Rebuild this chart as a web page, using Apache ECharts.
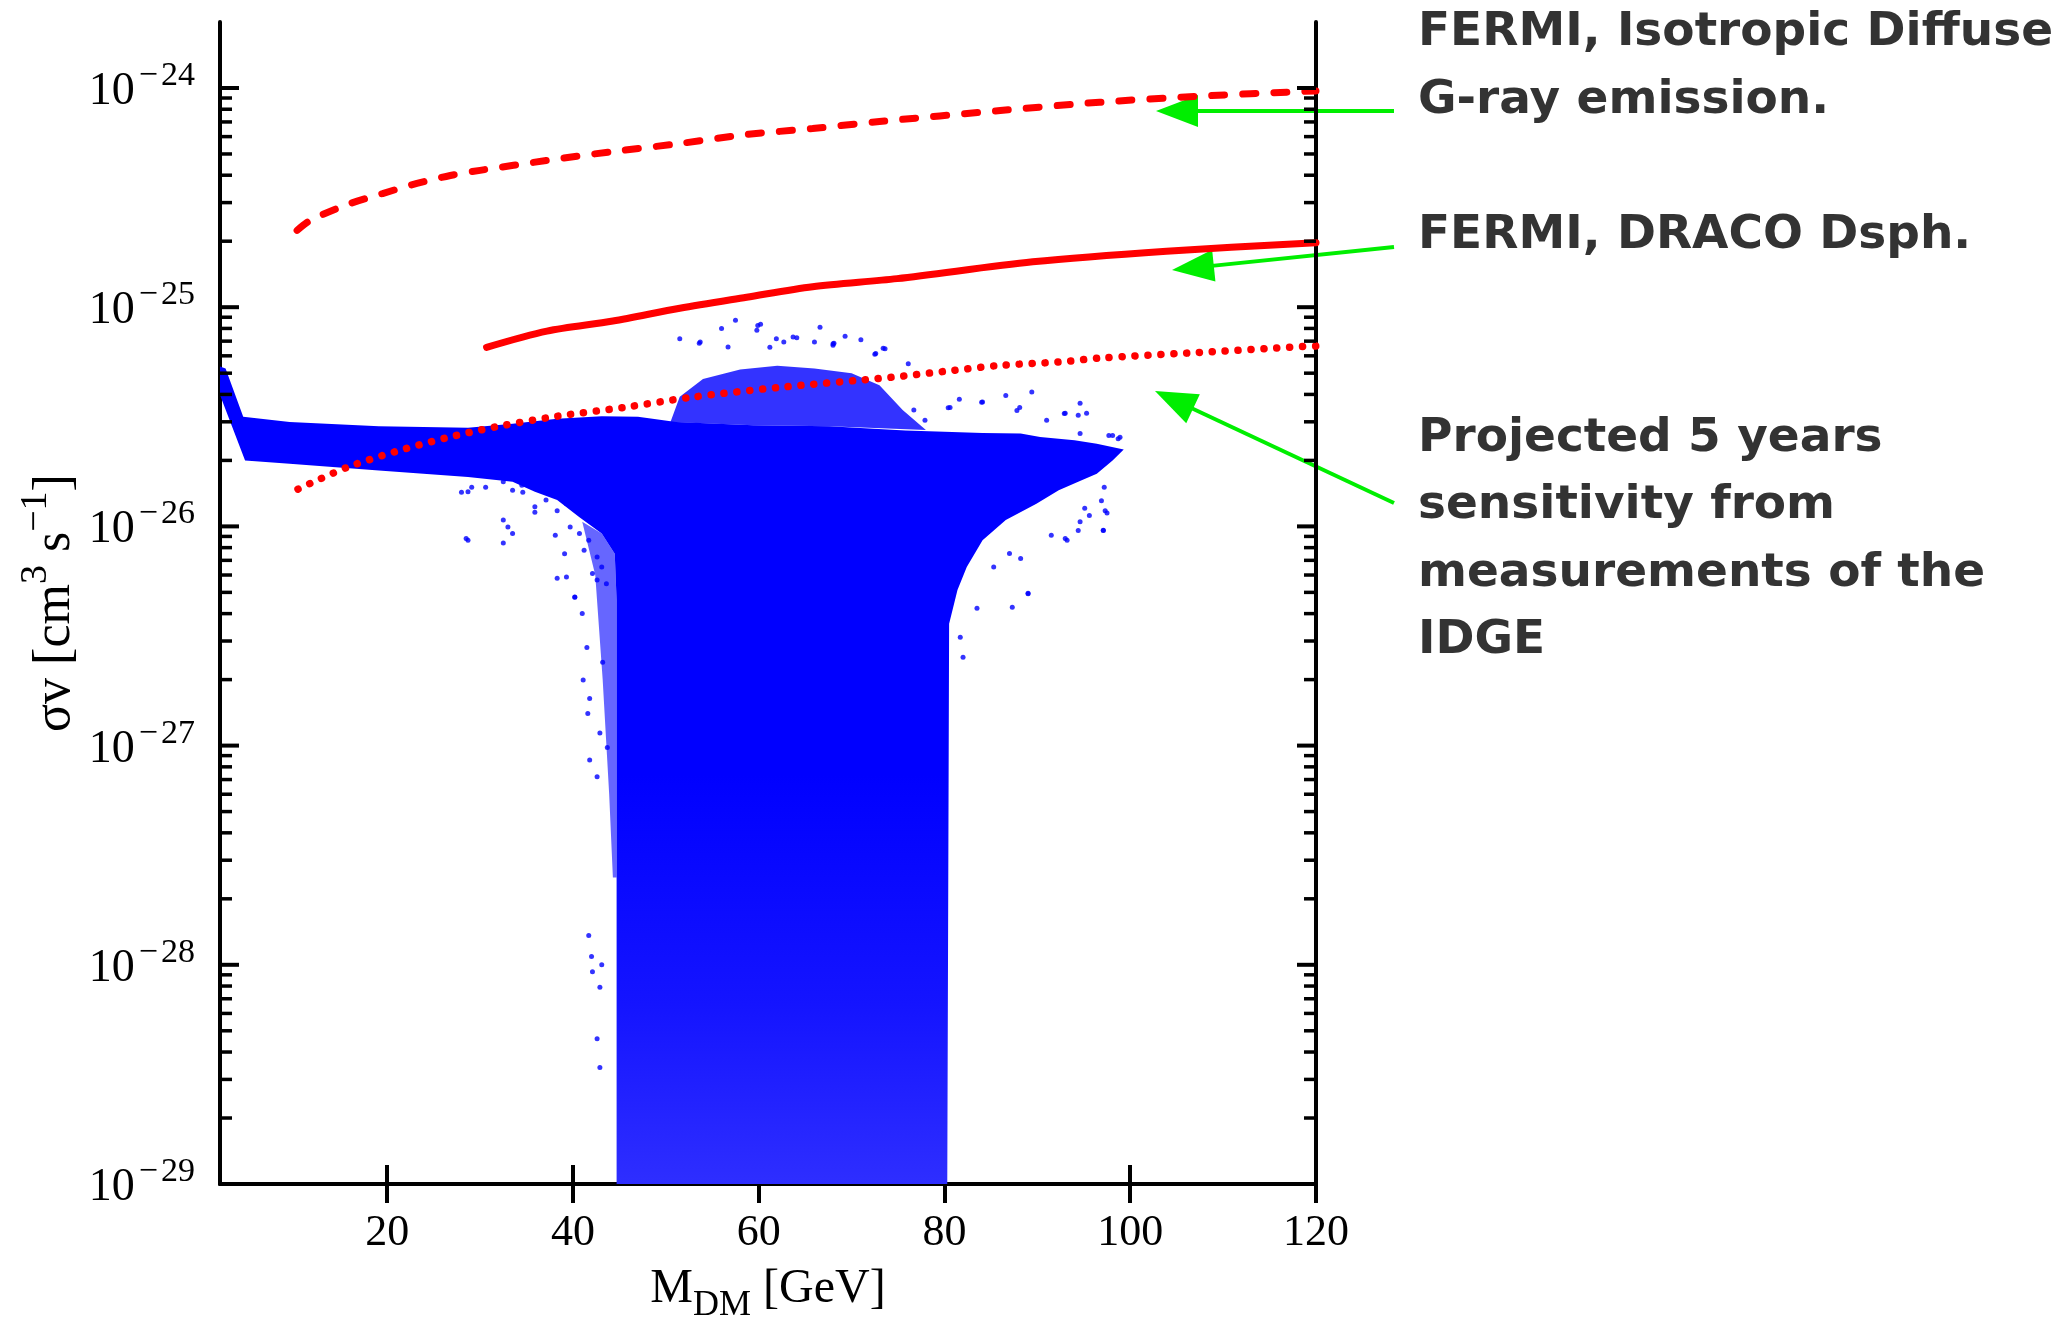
<!DOCTYPE html>
<html><head><meta charset="utf-8">
<script src="https://cdn.jsdelivr.net/npm/echarts@6/dist/echarts.min.js"></script>
<style>html,body{margin:0;padding:0;background:#fff}#c{width:2059px;height:1323px}</style>
</head><body><div id="c"></div>
<script>
// ---------- axis ticks ----------
const xTicks = [20, 40, 60, 80, 100, 120];
const yMajor = [1e-29, 1e-28, 1e-27, 1e-26, 1e-25, 1e-24];
const yMajorExp = [-29, -28, -27, -26, -25, -24];
const minorMantissa = [2, 3, 4, 5, 6, 7, 8, 9];
const minorExponents = [-29, -28, -27, -26, -25];

// ---------- FERMI Isotropic Diffuse (dashed) ----------
const isoX = [10.3, 11.4, 12.8, 16.0, 19.5, 23.2, 26.8, 30.0, 37.2, 44.3, 51.5, 58.7, 65.8, 73.0, 86.0, 96.7, 107.5, 120.0];
const isoY = [2.24e-25, 2.44e-25, 2.62e-25, 2.97e-25, 3.30e-25, 3.67e-25, 3.99e-25, 4.21e-25, 4.67e-25, 5.13e-25, 5.58e-25, 6.14e-25, 6.53e-25, 7.03e-25, 7.89e-25, 8.61e-25, 9.18e-25, 9.70e-25];

// ---------- FERMI DRACO Dsph (solid) ----------
const draX = [30.7, 37.2, 44.3, 51.5, 58.7, 65.8, 74.9, 89.5, 103.9, 120.0];
const draY = [6.56e-26, 7.78e-26, 8.65e-26, 9.89e-26, 1.11e-25, 1.24e-25, 1.35e-25, 1.61e-25, 1.80e-25, 1.97e-25];

// ---------- Projected 5 years (dotted) ----------
const proX = [10.4, 15.7, 21.0, 26.3, 31.6, 38.3, 45.5, 52.7, 62.3, 74.3, 79.9, 86.0, 92.3, 96.7, 106.3, 118.8, 120.0];
const proY = [1.48e-26, 1.86e-26, 2.20e-26, 2.53e-26, 2.84e-26, 3.18e-26, 3.49e-26, 3.88e-26, 4.31e-26, 4.79e-26, 5.09e-26, 5.43e-26, 5.62e-26, 5.86e-26, 6.18e-26, 6.62e-26, 6.65e-26];

// ---------- scan points: outline of the dense region ----------
const cloudX = [2.0, 2.6, 4.5, 9.5, 19.1, 28.7, 33.5, 38.3, 43.1, 47.0, 51.1, 59.4, 67.6, 75.8, 80.0, 84.1, 88.2, 90.3, 94.0, 96.4, 99.3,
  98.1, 96.4, 94.4, 92.3, 89.9, 86.6, 84.1, 82.4, 81.4, 80.5, 80.3, 44.7, 44.7, 44.5, 43.1, 40.7, 38.3, 35.9, 33.5, 28.7, 19.1, 9.5, 4.7, 2.0];
const cloudY = [5.37e-26, 5.25e-26, 3.16e-26, 2.99e-26, 2.86e-26, 2.82e-26, 2.94e-26, 3.10e-26, 3.18e-26, 3.16e-26, 2.99e-26, 2.89e-26, 2.86e-26, 2.74e-26, 2.70e-26, 2.67e-26, 2.65e-26, 2.56e-26, 2.47e-26, 2.38e-26, 2.24e-26,
  2.0e-26, 1.74e-26, 1.60e-26, 1.46e-26, 1.27e-26, 1.07e-26, 8.65e-27, 6.53e-27, 5.12e-27, 3.6e-27, 1e-29, 1e-29, 4.6e-27, 7.5e-27, 9.27e-27, 1.10e-26, 1.32e-26, 1.44e-26, 1.60e-26, 1.68e-26, 1.80e-26, 1.93e-26, 2.0e-26, 3.98e-26];

// sparser bump above the band (50-78 GeV)
const bumpX = [50.5, 51.5, 54.0, 58.0, 62.0, 66.0, 70.0, 73.0, 75.5, 78.0, 67.6, 59.4];
const bumpY = [2.99e-26, 3.9e-26, 4.7e-26, 5.2e-26, 5.4e-26, 5.25e-26, 5.0e-26, 4.4e-26, 3.4e-26, 2.75e-26, 2.86e-26, 2.89e-26];

// sparser strip left of the column (41-44.7 GeV)
const flareX = [41.0, 42.4, 43.2, 43.9, 44.3, 44.7, 44.7, 44.5, 43.1];
const flareY = [1.05e-26, 6.0e-27, 2.0e-27, 6.0e-28, 2.5e-28, 2.5e-28, 4.6e-27, 7.5e-27, 9.27e-27];

// individual outlying scan points
const outX = [51.5, 57.5, 59.9, 66.6, 68.1, 73.4, 53.6, 56.7, 60.2, 59.8, 61.9, 62.7, 64.1, 66.0, 68.0, 69.3, 71.0, 72.6, 73.6, 76.1, 76.7, 77.9,
  80.4, 81.6, 84.1, 86.6, 87.8, 89.4, 94.6, 92.9, 94.4, 97.7, 98.7, 96.9, 97.3, 94.4, 97.1, 93.2, 91.5, 88.2, 89.0, 85.3, 87.0, 94.6, 95.6,
  53.7, 56.0, 61.2, 63.7, 68.0, 72.5, 98.1, 98.9, 95.1, 97.1, 93.0, 89.0, 87.3, 82.0, 81.7, 83.5, 97.2, 97.5,
  80.6, 84.0, 88.1, 93.0, 95.3, 91.0, 94.6,
  34.6, 35.9, 38.1, 39.1, 38.3, 40.2, 41.1, 41.8, 41.6, 42.9, 41.8, 42.6, 41.0, 41.5, 42.6, 43.2, 43.7,
  28.7, 30.6, 32.5, 33.5, 34.5, 35.9, 37.1, 38.3, 39.3, 39.7, 40.7, 41.7, 41.2, 42.6, 43.1, 42.1, 43.6, 32.5, 33.0, 33.5, 28.7, 32.5, 39.3, 40.2,
  41.7, 42.0, 42.1, 42.9, 42.6, 42.9, 43.1, 28.0, 29.1, 28.5];
const outY = [7.18e-26, 8.71e-26, 8.26e-26, 8.11e-26, 6.84e-26, 6.49e-26, 6.85e-26, 6.58e-26, 8.35e-26, 7.84e-26, 7.18e-26, 6.93e-26, 7.26e-26, 6.93e-26, 6.81e-26, 7.36e-26, 7.11e-26, 6.14e-26, 6.47e-26, 5.52e-26, 3.40e-26, 3.05e-26,
  3.48e-26, 3.80e-26, 3.69e-26, 3.96e-26, 3.38e-26, 4.10e-26, 3.65e-26, 3.27e-26, 3.21e-26, 2.60e-26, 2.51e-26, 1.31e-26, 1.18e-26, 9.59e-27, 9.59e-27, 8.64e-27, 9.10e-27, 7.13e-27, 4.93e-27, 6.53e-27, 7.52e-27, 1.05e-26, 1.12e-26,
  6.93e-26, 8.0e-26, 6.56e-26, 7.31e-26, 6.70e-26, 6.1e-26, 2.6e-26, 2.55e-26, 1.21e-26, 9.6e-27, 8.8e-27, 4.95e-27, 4.28e-27, 2.53e-27, 3.12e-27, 4.23e-27, 1.51e-26, 1.15e-26,
  3.49e-26, 3.68e-26, 3.49e-26, 3.28e-26, 3.28e-26, 3.05e-26, 2.65e-26,
  1.43e-26, 1.16e-26, 9.1e-27, 7.5e-27, 5.8e-27, 4.75e-27, 1.99e-27, 1.64e-27, 1.40e-27, 1.14e-27, 8.6e-28, 7.2e-28, 4.0e-27, 2.8e-27, 5.7e-27, 2.4e-27, 9.8e-28,
  1.44e-26, 1.51e-26, 1.60e-26, 1.46e-26, 1.54e-26, 1.23e-26, 1.32e-26, 1.18e-26, 1.27e-26, 9.93e-27, 9.27e-27, 8.65e-27, 7.78e-27, 7.26e-27, 6.53e-27, 6.10e-27, 5.48e-27, 1.07e-26, 9.93e-27, 9.27e-27, 8.65e-27, 8.40e-27, 5.87e-27, 4.76e-27,
  1.36e-28, 1.09e-28, 9.3e-29, 7.9e-29, 4.6e-29, 3.4e-29, 1.0e-28, 1.43e-26, 1.51e-26, 8.8e-27];

// ---------- build ----------
const minorVals = [];
minorExponents.forEach(e => minorMantissa.forEach(m => minorVals.push(m * Math.pow(10, e))));
const pairs = (xs, ys) => xs.map((x, i) => [x, ys[i]]);

const serif = 'Liberation Serif';
const SANS = 'DejaVu Sans';
const BLUE = '#0000ff', RED = '#ff0000', GREEN = '#00ee00';

function polySeries(xs, ys, fill, z) {
  return {
    type: 'custom', coordinateSystem: 'cartesian2d', silent: true, z: z, clip: true,
    data: [[xs[0], ys[0]]],
    renderItem: function (params, api) {
      return { type: 'polygon', shape: { points: xs.map((x, i) => api.coord([x, ys[i]])) }, style: { fill: fill } };
    }
  };
}

function note(text, y) {
  return { type: 'text', x: 1418, y: y, style: { text: text, fontFamily: SANS, fontWeight: 'bold', fontSize: 47, fill: '#333', verticalAlign: 'middle' } };
}
function arrow(x1, y1, x2, y2) {
  const dx = x1 - x2, dy = y1 - y2, L = Math.hypot(dx, dy), ux = dx / L, uy = dy / L;
  const hl = 42, hw = 16, bx = x2 + ux * hl, by = y2 + uy * hl;
  return [
    { type: 'line', shape: { x1: x1, y1: y1, x2: bx - ux * 2, y2: by - uy * 2 }, style: { stroke: GREEN, lineWidth: 4 } },
    { type: 'polygon', shape: { points: [[x2, y2], [bx - uy * hw, by + ux * hw], [bx + uy * hw, by - ux * hw]] }, style: { fill: GREEN } }
  ];
}

const chart = echarts.init(document.getElementById('c'), null, { renderer: 'canvas' });
const axisLineStyle = { show: true, lineStyle: { color: '#000', width: 4 } };

const option = {
  animation: false,
  backgroundColor: '#fff',
  grid: { left: 220, top: 22, width: 1096, height: 1162, outerBoundsMode: 'none' },
  xAxis: [
    {
      type: 'value', position: 'bottom', min: 2, max: 120,
      axisLine: axisLineStyle,
      axisTick: { show: true, inside: true, length: 19, customValues: xTicks, lineStyle: { color: '#000', width: 4 } },
      axisLabel: { customValues: xTicks, margin: 27, color: '#000', fontFamily: serif, fontSize: 44 },
      splitLine: { show: false },
      name: '{t|M}{sub|DM}{t| [GeV]}', nameLocation: 'middle', nameGap: 70,
      nameTextStyle: {
        rich: {
          t: { fontFamily: serif, fontSize: 48, color: '#000', lineHeight: 70 },
          sub: { fontFamily: serif, fontSize: 36, color: '#000', verticalAlign: 'bottom' }
        }
      }
    },
    {
      type: 'value', position: 'top', min: 2, max: 120,
      axisLine: axisLineStyle,
      axisTick: { show: true, inside: true, length: 19, customValues: xTicks, lineStyle: { color: '#000', width: 4 } },
      axisLabel: { show: false }, splitLine: { show: false }
    }
  ],
  yAxis: [
    {
      type: 'log', logBase: 10, position: 'left', min: 1e-29, max: 2e-24,
      axisLine: axisLineStyle,
      axisTick: { show: false }, axisLabel: { show: false }, splitLine: { show: false },
      name: '{t|\u03c3v [cm}{s|3}{t| s}{s|\u22121}{t|]}', nameLocation: 'middle', nameRotate: 90, nameGap: 126,
      nameTextStyle: {
        rich: {
          t: { fontFamily: serif, fontSize: 52, color: '#000', lineHeight: 77 },
          s: { fontFamily: serif, fontSize: 38, color: '#000', verticalAlign: 'top' }
        }
      }
    },
    {
      type: 'log', logBase: 10, position: 'right', min: 1e-29, max: 2e-24,
      axisLine: axisLineStyle,
      axisTick: { show: false }, axisLabel: { show: false }, splitLine: { show: false }
    }
  ],
  series: [
    polySeries(cloudX, cloudY, new echarts.graphic.LinearGradient(0, 0, 0, 1, [
      { offset: 0, color: '#0000ff' }, { offset: 0.5, color: '#0000ff' },
      { offset: 0.78, color: '#1414ff' }, { offset: 1, color: '#2e2eff' }]), 1),
    polySeries(bumpX, bumpY, 'rgba(0,0,255,0.8)', 1),
    polySeries(flareX, flareY, 'rgba(0,0,255,0.6)', 1),
    {
      type: 'scatter', silent: true, z: 2, symbol: 'circle', symbolSize: 5,
      itemStyle: { color: BLUE }, data: pairs(outX, outY)
    },
    {
      type: 'line', silent: true, z: 3, showSymbol: false, smooth: 0.3,
      lineStyle: { color: RED, width: 7, type: [13, 18], cap: 'round' },
      data: pairs(isoX, isoY)
    },
    {
      type: 'line', silent: true, z: 3, showSymbol: false, smooth: 0.3,
      lineStyle: { color: RED, width: 7, type: 'solid', cap: 'round' },
      data: pairs(draX, draY)
    },
    {
      type: 'line', silent: true, z: 3, showSymbol: false, smooth: 0.3,
      lineStyle: { color: RED, width: 7.5, type: [0.1, 12.8], cap: 'round' },
      data: pairs(proX, proY)
    },
    { // minor y ticks, left and right
      type: 'custom', coordinateSystem: 'cartesian2d', silent: true, z: 5, clip: false,
      data: minorVals.map(v => [2, v]),
      renderItem: function (params, api) {
        const y = api.coord([api.value(0), api.value(1)])[1];
        const cs = params.coordSys;
        const st = { stroke: '#000', lineWidth: 3.5 };
        return {
          type: 'group', children: [
            { type: 'line', shape: { x1: cs.x, y1: y, x2: cs.x + 12, y2: y }, style: st },
            { type: 'line', shape: { x1: cs.x + cs.width - 12, y1: y, x2: cs.x + cs.width, y2: y }, style: st }
          ]
        };
      }
    },
    { // major y ticks and labels
      type: 'custom', coordinateSystem: 'cartesian2d', silent: true, z: 5, clip: false,
      data: yMajor.map((v, i) => [2, v, yMajorExp[i]]),
      renderItem: function (params, api) {
        const y = api.coord([api.value(0), api.value(1)])[1];
        const cs = params.coordSys;
        const st = { stroke: '#000', lineWidth: 4 };
        const ex = api.value(2);
        return {
          type: 'group', children: [
            { type: 'line', shape: { x1: cs.x, y1: y, x2: cs.x + 19, y2: y }, style: st },
            { type: 'line', shape: { x1: cs.x + cs.width - 19, y1: y, x2: cs.x + cs.width, y2: y }, style: st },
            {
              type: 'text', x: cs.x - 25, y: y + 4,
              style: {
                text: '{b|10}{m|\u2212}{s|' + (-ex) + '}', align: 'right', verticalAlign: 'middle',
                rich: {
                  b: { fontFamily: serif, fontSize: 46, fill: '#000', lineHeight: 66 },
                  m: { fontFamily: serif, fontSize: 34, fill: '#000', verticalAlign: 'top', padding: [0, 3, 0, 4] },
                  s: { fontFamily: serif, fontSize: 34, fill: '#000', verticalAlign: 'top' }
                }
              }
            }
          ]
        };
      }
    }
  ],
  graphic: {
    elements: [
      note('FERMI, Isotropic Diffuse', 33),
      note('G-ray emission.', 101),
      note('FERMI, DRACO Dsph.', 236),
      note('Projected 5 years', 439),
      note('sensitivity from', 506),
      note('measurements of the', 574),
      note('IDGE', 641)
    ].concat(arrow(1394, 111, 1156, 111), arrow(1394, 247, 1172, 270), arrow(1394, 503, 1155, 391))
  }
};
chart.setOption(option);
</script></body></html>
